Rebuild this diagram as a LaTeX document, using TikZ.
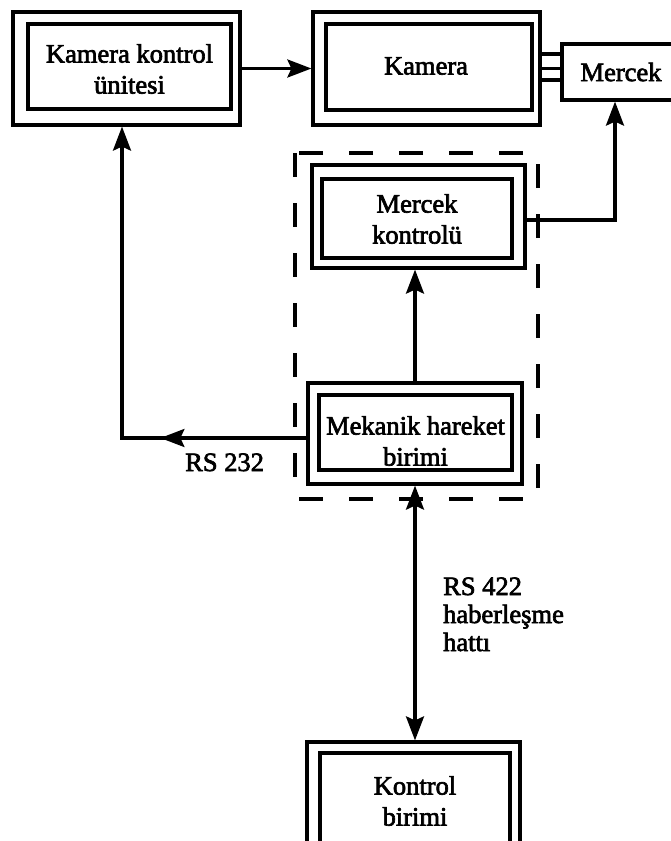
\documentclass[tikz,border=0pt]{standalone}
\usepackage{fontspec}
\setmainfont[FakeBold=2.5]{Liberation Serif}
\usetikzlibrary{arrows.meta,decorations.markings}
\begin{document}
\begin{tikzpicture}[x=1pt,y=-1pt,
  wire/.style={line width=3.2pt},
  tip/.tip={Stealth[length=24pt,width=18pt,inset=4pt]},
  outerframe/.style={draw,line width=3.2pt,inner sep=0pt},
  innerframe/.style={draw,line width=3.2pt,inner sep=0pt},
  boxtext/.style={align=center,inner sep=0pt,font=\fontsize{26.5}{31}\selectfont},
  plain/.style={align=left,inner sep=0pt,font=\fontsize{26.5}{28}\selectfont},
  groupbox/.style={line width=3.2pt,dash pattern=on 24pt off 26pt}]
\useasboundingbox (0,0) rectangle (671,841);

% camera control unit
\node[outerframe,minimum width=227pt,minimum height=113pt] (kkuO) at (126.5,68.5) {};
\node[innerframe,minimum width=203pt,minimum height=85pt] (kkuI) at (129.5,66.5) {};
\node[boxtext] (kku) at (129.5,69) {Kamera kontrol\\ünitesi};

% camera
\node[outerframe,minimum width=227pt,minimum height=113pt] (kamO) at (426.5,68.5) {};
\node[innerframe,minimum width=206pt,minimum height=86pt] (kamI) at (429,67) {};
\node[boxtext] (kam) at (426,66) {Kamera};

% lens
\node[outerframe,minimum width=118pt,minimum height=56pt] (merc) at (621,72) {};
\node[boxtext] (merct) at (621,72) {Mercek};

% grouping of lens control and motion unit
\draw[groupbox] (295,153) rectangle (538,499);

% lens control
\node[outerframe,minimum width=213pt,minimum height=103pt] (mkO) at (418.5,216.5) {};
\node[innerframe,minimum width=190pt,minimum height=79pt] (mkI) at (417,218.5) {};
\node[boxtext] (mk) at (417,219) {Mercek\\kontrolü};

% mechanical motion unit
\node[outerframe,minimum width=214pt,minimum height=101pt] (mekO) at (415,433.5) {};
\node[innerframe,minimum width=193pt,minimum height=75pt] (mekI) at (415.5,432.5) {};
\node[boxtext] (mek) at (415.5,441) {Mekanik hareket\\birimi};

% control unit
\node[outerframe,minimum width=213pt,minimum height=138pt] (kbO) at (413.5,811) {};
\node[innerframe,minimum width=190pt,minimum height=112pt] (kbI) at (415,809) {};
\node[boxtext] (kb) at (415,801) {Kontrol\\birimi};

% lens mount between camera and lens
\draw[wire] ([yshift=14.5pt]kamO.east) -- ([yshift=14.5pt]kamO.east -| merc.west);
\draw[wire] (kamO.east) -- (kamO.east -| merc.west);
\draw[wire] ([yshift=-11.5pt]kamO.east) -- ([yshift=-11.5pt]kamO.east -| merc.west);

% connectors
\draw[wire,-tip] (kkuO.east) -- (kkuO.east -| kamO.west);

\coordinate (lensbend) at (615,220);
\draw[wire,-tip] (lensbend -| mkO.east) -- (lensbend) -- (lensbend |- merc.south);

\draw[wire,-tip] (mekO.north) -- (mekO.north |- mkO.south);

\coordinate (rsbend) at (122,438);
\draw[wire,-tip,
  postaction={decorate,decoration={markings,
    mark=at position 146pt with {\arrow{tip}}}}]
  (rsbend -| mekO.west) -- (rsbend) -- (rsbend |- kkuO.south);
\node[plain,anchor=base west] (rs232) at (185,471) {RS 232};

\draw[wire,tip-tip] (mekO.south) -- (mekO.south |- kbO.north);
\node[plain,anchor=base west] (rs422) at (443,651) {RS 422\\haberleşme\\hattı};
\end{tikzpicture}
\end{document}
